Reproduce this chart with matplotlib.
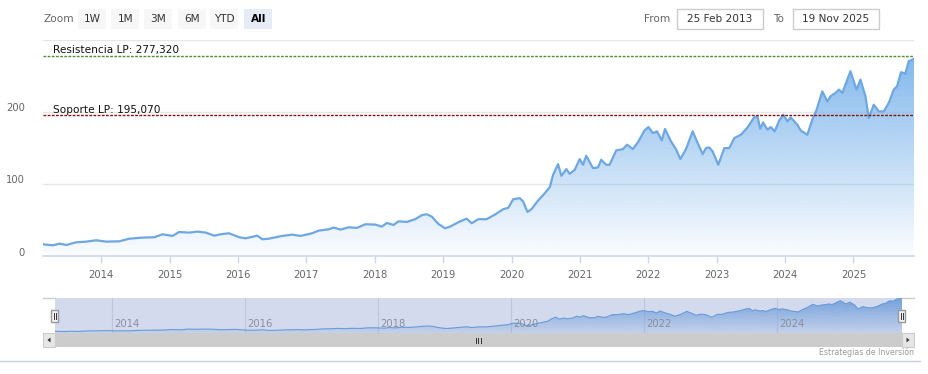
import numpy as np
import matplotlib
matplotlib.use('Agg')
import matplotlib.pyplot as plt
from matplotlib.patches import Rectangle, Polygon
from matplotlib.transforms import ScaledTranslation
import matplotlib.colors as mcolors

# ---------------- data ----------------
years = [2013.150, 2013.294, 2013.392, 2013.490, 2013.636, 2013.781, 2013.927,
         2014.073, 2014.267, 2014.413, 2014.606, 2014.777, 2014.898,
         2015.044, 2015.141, 2015.287, 2015.408, 2015.531, 2015.652, 2015.749, 2015.870,
         2016.016, 2016.114, 2016.283, 2016.356, 2016.453, 2016.647, 2016.793, 2016.915,
         2017.085, 2017.182, 2017.328, 2017.401, 2017.499, 2017.620, 2017.741, 2017.863,
         2018.009, 2018.105, 2018.178, 2018.276, 2018.348, 2018.469, 2018.592, 2018.688,
         2018.761, 2018.834, 2018.931,
         2019.029, 2019.102, 2019.223, 2019.344, 2019.417, 2019.515, 2019.636, 2019.758,
         2019.879, 2019.952,
         2020.025, 2020.122, 2020.171, 2020.233, 2020.292, 2020.389, 2020.487, 2020.560,
         2020.608, 2020.681, 2020.729, 2020.802, 2020.851, 2020.924, 2020.997,
         2021.045, 2021.093, 2021.191, 2021.264, 2021.312, 2021.385, 2021.434, 2021.531,
         2021.628, 2021.691, 2021.774, 2021.847, 2021.945,
         2022.003, 2022.066, 2022.128, 2022.197, 2022.245, 2022.332, 2022.405, 2022.469,
         2022.551, 2022.649, 2022.722, 2022.795, 2022.843, 2022.892, 2022.941,
         2023.023, 2023.111, 2023.184, 2023.257, 2023.353, 2023.451, 2023.548, 2023.596,
         2023.636, 2023.679, 2023.742, 2023.790, 2023.848, 2023.913, 2023.975,
         2024.034, 2024.082, 2024.179, 2024.228, 2024.325, 2024.398, 2024.461, 2024.544,
         2024.617, 2024.665, 2024.738, 2024.787, 2024.837, 2024.956,
         2025.044, 2025.102, 2025.175, 2025.224, 2025.297, 2025.370, 2025.443, 2025.516,
         2025.589, 2025.637, 2025.695, 2025.758, 2025.808, 2025.885]
values = [16.2, 14.8, 17.1, 15.3, 19.0, 19.9, 21.8,
          19.9, 20.4, 24.0, 25.5, 26.0, 30.1,
          27.8, 33.3, 32.4, 33.8, 32.4, 28.2, 30.1, 31.5,
          26.0, 24.5, 28.2, 23.2, 24.0, 27.8, 29.6, 27.8,
          31.5, 35.2, 37.0, 39.4, 36.6, 39.8, 38.9, 44.0,
          43.5, 40.7, 45.8, 43.0, 48.1, 47.2, 51.0, 56.5,
          57.9, 54.6, 44.4,
          38.4, 40.7, 46.8, 51.8, 45.4, 51.0, 51.0, 57.4,
          64.9, 66.7,
          78.7, 80.1, 75.4, 61.1, 64.9, 76.9, 87.0, 95.4,
          112.5, 127.3, 111.1, 120.4, 113.9, 119.4, 134.3,
          126.4, 138.9, 121.8, 122.7, 133.3, 126.4, 126.4, 146.3,
          148.1, 154.2, 148.1, 157.4, 174.0,
          178.7, 170.4, 172.7, 160.2, 176.0, 158.8, 148.1, 134.3,
          148.1, 172.7, 156.5, 141.2, 149.5, 150.4, 144.9,
          126.4, 149.5, 149.5, 163.4, 168.0, 178.2, 192.1, 193.5,
          176.4, 185.1, 175.0, 178.7, 172.7, 187.5, 195.8,
          186.5, 192.1, 181.9, 174.0, 168.0, 188.9, 202.8, 228.2,
          214.3, 221.3, 226.0, 230.6, 226.0, 256.0,
          230.6, 244.4, 221.3, 191.2, 209.7, 200.4, 200.4, 212.0,
          230.6, 235.1, 254.6, 252.8, 269.9, 273.2]

resistance = 277.32
support = 195.07
resistance_label = 'Resistencia LP: 277,320'
support_label = 'Soporte LP: 195,070'
y_ticks = [0, 100, 200, 300]
y_tick_labels = ['0', '100', '200', '']
x_ticks = list(range(2014, 2026))
nav_ticks = [2014, 2016, 2018, 2020, 2022, 2024]
zoom_buttons = ['1W', '1M', '3M', '6M', 'YTD', 'All']
selected_button = 'All'
from_date = '25 Feb 2013'
to_date = '19 Nov 2025'
credits_text = 'Estrategias de Inversión'

# ---------------- figure ----------------
W, H = 929, 374
fig = plt.figure(figsize=(W / 100, H / 100), dpi=100)
fig.patch.set_facecolor('white')


def px_axes(x0, y0, x1, y1):
    return fig.add_axes([x0 / W, 1 - y1 / H, (x1 - x0) / W, (y1 - y0) / H])


def gradient_fill(ax, x, y, y0, ytop, color, a_top, a_bot, z):
    n = 256
    img = np.zeros((n, 1, 4))
    img[:, 0, :3] = mcolors.to_rgb(color)
    img[:, 0, 3] = np.linspace(a_top, a_bot, n)
    im = ax.imshow(img, extent=[x[0], x[-1], y0, ytop], aspect='auto',
                   origin='upper', zorder=z, interpolation='bilinear')
    verts = np.vstack([[x[0], y0], np.column_stack([x, y]), [x[-1], y0]])
    poly = Polygon(verts, closed=True, facecolor='none', edgecolor='none')
    ax.add_patch(poly)
    im.set_clip_path(poly)


x = np.array(years)
y = np.array(values)

LINE = '#6ea7e2'
FILL = '#7cb5ec'

# ---------------- main chart ----------------
ax = px_axes(43, 39.5, 914, 256)
gradient_fill(ax, x, y, 0, y.max(), FILL, 0.95, 0.03, 1)
ax.plot(x, y, color=LINE, lw=1.6, zorder=3, solid_joinstyle='round')
ax.set_xlim(x[0], x[-1])
ax.set_ylim(0, 300)
ax.set_facecolor('none')
for s in ['top', 'left', 'right']:
    ax.spines[s].set_visible(False)
ax.spines['bottom'].set_color('#ccd6eb')
ax.spines['bottom'].set_linewidth(1.2)
ax.set_yticks(y_ticks)
ax.set_yticklabels(y_tick_labels)
ax.yaxis.grid(True, color='#e6e6e6', lw=1)
ax.set_axisbelow(True)
ax.tick_params(axis='y', length=0, pad=13, labelsize=7.2, labelcolor='#666666')
for lab in ax.get_yticklabels():
    lab.set_transform(lab.get_transform() + ScaledTranslation(0, 0.045, fig.dpi_scale_trans))
ax.set_xticks(x_ticks)
ax.set_xticklabels([str(t) for t in x_ticks])
ax.tick_params(axis='x', length=5, width=1, color='#ccd6eb', pad=5,
               labelsize=7.2, labelcolor='#666666')

ax.axhline(resistance, color='#4f8f2f', lw=1, ls=(0, (2, 1)), zorder=4)
ax.axhline(support, color='#8b1010', lw=1, ls=(0, (2, 1)), zorder=4)
label_x = (53 - 43) / (914 - 43)
ax.annotate(resistance_label, xy=(label_x, resistance), xycoords=('axes fraction', 'data'),
            xytext=(0, 2.5), textcoords='offset pixels', va='baseline', ha='left',
            fontsize=7.6, color='#111111', zorder=5)
ax.annotate(support_label, xy=(label_x, support), xycoords=('axes fraction', 'data'),
            xytext=(0, 2.5), textcoords='offset pixels', va='baseline', ha='left',
            fontsize=7.6, color='#111111', zorder=5)

# ---------------- navigator ----------------
nav = px_axes(55, 298, 902, 333)
nav.set_facecolor('#d3daed')
rng = y.max() - y.min()
nav.set_ylim(y.min() - 1.5 / 33 * rng, y.max() + 0.5 / 33 * rng)
gradient_fill(nav, x, y, nav.get_ylim()[0], y.max(), '#6f9fdc', 0.95, 0.15, 1)
nav.plot(x, y, color='#6a9ad8', lw=0.8, zorder=3)
nav.set_xlim(x[0], x[-1])
nav.set_ylim(y.min() - 1.5 / 33 * rng, y.max() + 0.5 / 33 * rng)
for s in nav.spines.values():
    s.set_visible(False)
nav.set_yticks([])
nav.set_xticks(nav_ticks)
nav.set_xticklabels([])
nav.tick_params(axis='x', length=0)
nav.xaxis.grid(True, color='#bfc7dc', lw=0.8)
nav.set_axisbelow(True)
for t in nav_ticks:
    nav.annotate(str(t), xy=(t, 0), xycoords=('data', 'axes fraction'),
                 xytext=(3, 4), textcoords='offset pixels', ha='left', va='bottom',
                 fontsize=7.2, color='#8a8f9c', zorder=4)

# ---------------- overlay (pixel coordinates) ----------------
ov = fig.add_axes([0, 0, 1, 1])
ov.set_xlim(0, W)
ov.set_ylim(H, 0)
ov.axis('off')
ov.set_zorder(10)

# range selector
ov.text(44, 18.5, 'Zoom', fontsize=7.6, color='#666666', va='center', ha='left')
btn_x = [78, 111, 144, 178, 210, 244]
for bx, b in zip(btn_x, zoom_buttons):
    sel = (b == selected_button)
    ov.add_patch(Rectangle((bx, 9), 28.5, 19.5, facecolor='#e6ebf5' if sel else '#f7f7f7',
                           edgecolor='none'))
    ov.text(bx + 14.25, 18.8, b, fontsize=7.6, color='#000000' if sel else '#333333',
            fontweight='bold' if sel else 'normal', ha='center', va='center')

ov.text(644, 18.5, 'From', fontsize=7.6, color='#666666', va='center', ha='left')
ov.add_patch(Rectangle((677, 9), 86, 20, facecolor='white', edgecolor='#cccccc', lw=1))
ov.text(720, 19, from_date, fontsize=7.6, color='#333333', ha='center', va='center')
ov.text(773, 18.5, 'To', fontsize=7.6, color='#666666', va='center', ha='left')
ov.add_patch(Rectangle((793, 9), 86, 20, facecolor='white', edgecolor='#cccccc', lw=1))
ov.text(836, 19, to_date, fontsize=7.6, color='#333333', ha='center', va='center')

# navigator outline pieces
ov.plot([43, 55], [298, 298], color='#cccccc', lw=1)
ov.plot([902, 914], [298, 298], color='#cccccc', lw=1)

# navigator handles
for hx in [55, 902]:
    ov.add_patch(Rectangle((hx - 3.5, 310), 7, 12, facecolor='#f2f2f2',
                           edgecolor='#999999', lw=1))
    ov.plot([hx - 1, hx - 1], [313, 319], color='#333333', lw=0.7)
    ov.plot([hx + 1, hx + 1], [313, 319], color='#333333', lw=0.7)

# scrollbar
ov.add_patch(Rectangle((43, 333), 871, 14, facecolor='#cccccc', edgecolor='none'))
ov.add_patch(Rectangle((43, 333), 12, 14, facecolor='#e6e6e6', edgecolor='#cccccc', lw=0.8))
ov.add_patch(Rectangle((902, 333), 12, 14, facecolor='#e6e6e6', edgecolor='#cccccc', lw=0.8))
ov.add_patch(Polygon([[47.5, 340], [50.5, 337.5], [50.5, 342.5]], closed=True,
                     facecolor='#333333', edgecolor='none'))
ov.add_patch(Polygon([[909.5, 340], [906.5, 337.5], [906.5, 342.5]], closed=True,
                     facecolor='#333333', edgecolor='none'))
for gx in [476, 478.5, 481]:
    ov.plot([gx, gx], [337.5, 342.5], color='#333333', lw=0.7)

# credits
ov.text(914, 352.5, credits_text, fontsize=5.6, color='#999999', ha='right', va='center')

# bottom separator
ov.plot([0, 920], [360.5, 360.5], color='#c9cee0', lw=1)

fig.savefig('out.png', dpi=100, facecolor='white')
